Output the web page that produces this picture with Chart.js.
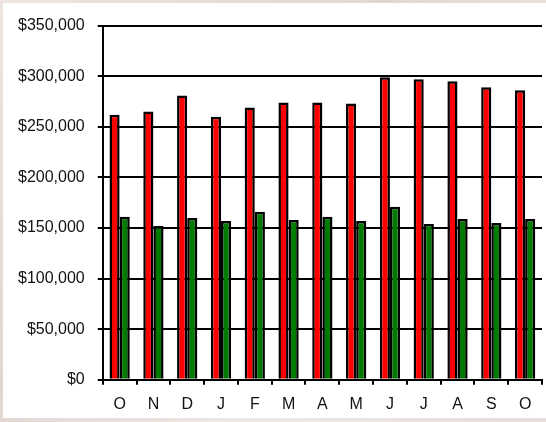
<!DOCTYPE html>
<html>
<head>
<meta charset="utf-8">
<script src="https://cdn.jsdelivr.net/npm/chart.js@4"></script>
<style>
    html, body { margin: 0; padding: 0; }
    body {
        width: 546px; height: 422px; overflow: hidden;
        background: linear-gradient(135deg, #eee4e0 0%, #e3d6d2 40%, #efe8e2 70%, #e6dcd8 100%);
        position: relative;
    }
    #box {
        position: absolute; left: 3px; top: 3px;
        width: 543px; height: 415px; background: #fff; overflow: hidden;
    }
</style>
</head>
<body>
<div id="box"><canvas id="myChart" width="543" height="415"></canvas></div>
<script>
const bulan = ['O', 'N', 'D', 'J', 'F', 'M', 'A', 'M', 'J', 'J', 'A', 'S', 'O'];
const merah = [262000, 265000, 281000, 260000, 269000, 274000, 274000, 273000, 299000, 297000, 295000, 289000, 286000];
const hijau = [161000, 152000, 160000, 157000, 166000, 158000, 161000, 157000, 171000, 154000, 159000, 155000, 159000];

const fontUmum = { family: '"Liberation Sans", Arial, sans-serif', size: 16 };

function rupiah(v) {
    return '$' + v.toLocaleString('en-US');
}

const ctx = document.getElementById('myChart');
const chart = new Chart(ctx, {
    type: 'bar',
    data: {
        labels: bulan,
        datasets: [
            {
                data: merah,
                backgroundColor: '#ff0000',
                borderColor: '#000',
                borderWidth: 2.5,
                borderSkipped: 'bottom'
            },
            {
                data: hijau,
                backgroundColor: '#007a00',
                borderColor: '#000',
                borderWidth: 2.5,
                borderSkipped: 'bottom'
            }
        ]
    },
    options: {
        responsive: false,
        animation: false,
        categoryPercentage: 0.6,
        barPercentage: 1.0,
        layout: { padding: { left: 2, top: 14, right: 4, bottom: -6 } },
        plugins: {
            legend: { display: false },
            tooltip: { enabled: false }
        },
        scales: {
            y: {
                min: 0,
                max: 350000,
                ticks: {
                    stepSize: 50000,
                    callback: rupiah,
                    color: '#111',
                    font: fontUmum,
                    padding: 13
                },
                grid: { color: '#000', lineWidth: 2, tickLength: 5 },
                border: { color: '#000', width: 2 }
            },
            x: {
                ticks: { color: '#111', font: fontUmum, padding: 10 },
                grid: { drawOnChartArea: false, color: '#000', lineWidth: 2, tickLength: 5 },
                border: { color: '#000', width: 2 }
            }
        }
    }
});
</script>
</body>
</html>
